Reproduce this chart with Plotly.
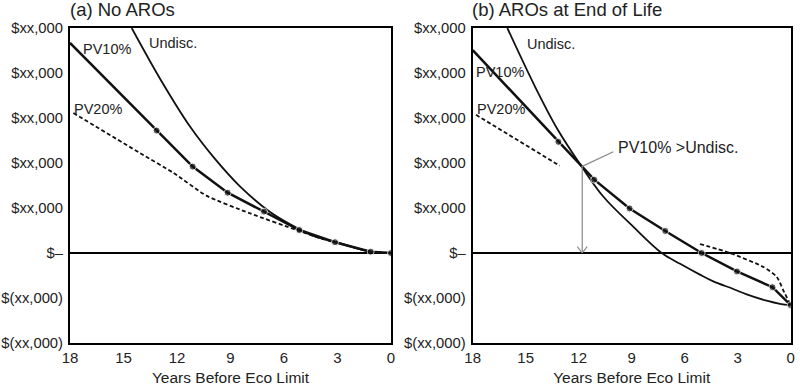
import plotly.graph_objects as go

# ---------------- data ----------------
x_ticks = [18, 15, 12, 9, 6, 3, 0]
y_ticks = [5, 4, 3, 2, 1, 0, -1, -2]
y_tick_labels = ["$xx,000", "$xx,000", "$xx,000", "$xx,000", "$xx,000", "$–", "$(xx,000)", "$(xx,000)"]

# Panel (a) No AROs
a_undisc_yr = [14.54, 12.9, 11.27, 9.87, 8.47, 6.78, 5.1, 4.15, 3.14, 1.14, 0]
a_undisc_val = [5.0, 3.84, 2.81, 2.09, 1.48, 0.91, 0.52, 0.35, 0.25, 0.03, 0]
a_pv10_yr = [18, 13.14, 11.12, 9.16, 7.12, 5.14, 3.14, 1.14, 0]
a_pv10_val = [4.67, 2.72, 1.92, 1.34, 0.92, 0.51, 0.24, 0.03, 0]
a_pv10_marker = [0, 7, 7, 7, 7, 7, 7, 7, 7]
a_pv20_yr = [17.81, 14.07, 12.2, 10.33, 7.9, 5.29, 3.98, 3.14, 1.14, 0]
a_pv20_val = [3.11, 2.22, 1.78, 1.27, 0.88, 0.51, 0.33, 0.24, 0.03, 0]

# Panel (b) AROs at End of Life
b_undisc_yr = [16.04, 14.5, 13.2, 11.83, 10.6, 8.9, 7.3, 6.26, 5.14, 4.38, 3.25, 2.49, 1.36, 0.61, 0]
b_undisc_val = [5.0, 3.72, 2.75, 1.92, 1.25, 0.58, 0.0, -0.24, -0.48, -0.63, -0.80, -0.92, -1.06, -1.13, -1.16]
b_pv10_yr = [18, 13.15, 11.12, 9.12, 7.1, 5.04, 3.04, 1.03, 0]
b_pv10_val = [4.51, 2.47, 1.63, 0.99, 0.49, 0.0, -0.41, -0.76, -1.16]
b_pv10_marker = [0, 7, 7, 7, 7, 7, 7, 7, 7]
b_pv20_yr = [17.81, 13.08, None, 5.14, 3.44, 1.55, 0.79, 0.42, 0]
b_pv20_val = [3.07, 1.94, None, 0.2, 0.0, -0.31, -0.53, -0.83, -1.16]

cross_yr = 11.8
cross_val = 1.92
FONT = "Liberation Sans, Arial, Helvetica, sans-serif"

fig = go.Figure()

def add_panel(xa, ya, und_x, und_y, p10_x, p10_y, p10_m, p20_x, p20_y):
    fig.add_trace(go.Scatter(x=und_x, y=und_y, xaxis=xa, yaxis=ya, mode="lines",
                             line=dict(color="#111", width=1.8, shape="spline", smoothing=1.0),
                             showlegend=False, hoverinfo="skip"))
    fig.add_trace(go.Scatter(x=p20_x, y=p20_y, xaxis=xa, yaxis=ya, mode="lines",
                             line=dict(color="#111", width=1.8, dash="4px,2.5px", shape="spline", smoothing=0.6),
                             showlegend=False, hoverinfo="skip", connectgaps=False))
    fig.add_trace(go.Scatter(x=p10_x, y=p10_y, xaxis=xa, yaxis=ya, mode="lines+markers",
                             line=dict(color="#111", width=2.5),
                             marker=dict(color="#111", size=p10_m),
                             showlegend=False, hoverinfo="skip"))

add_panel("x", "y", a_undisc_yr, a_undisc_val, a_pv10_yr, a_pv10_val, a_pv10_marker, a_pv20_yr, a_pv20_val)
add_panel("x2", "y2", b_undisc_yr, b_undisc_val, b_pv10_yr, b_pv10_val, b_pv10_marker, b_pv20_yr, b_pv20_val)

axis_common = dict(showline=True, mirror=True, linecolor="black", linewidth=2, showgrid=False,
                   automargin=False, ticks="")
xcommon = dict(axis_common, range=[18, 0], tickvals=x_ticks, zeroline=False, ticklabelstandoff=0,
               tickfont=dict(family=FONT, size=15, color="#222"),
               title=dict(text="Years Before Eco Limit", font=dict(family=FONT, size=15.5, color="#222"), standoff=7))
ycommon = dict(axis_common, range=[-2, 5], tickvals=y_ticks, ticktext=y_tick_labels,
               tickfont=dict(family=FONT, size=14.8, color="#222"),
               zeroline=True, zerolinecolor="black", zerolinewidth=2, ticklabelstandoff=2)

fig.update_layout(
    width=800, height=388,
    margin=dict(l=0, r=0, t=28, b=45),
    paper_bgcolor="white", plot_bgcolor="white",
    xaxis=dict(xcommon, domain=[70 / 800, 391 / 800], anchor="y"),
    yaxis=dict(ycommon, domain=[0, 1], anchor="x"),
    xaxis2=dict(xcommon, domain=[472.7 / 800, 790.7 / 800], anchor="y2"),
    yaxis2=dict(ycommon, domain=[0, 1], anchor="x2"),
)

ann = []
def txt(text, x, y, xref, yref, size=14.5, xanchor="left", yanchor="middle"):
    ann.append(dict(text=text, x=x, y=y, xref=xref, yref=yref, showarrow=False,
                    xanchor=xanchor, yanchor=yanchor,
                    font=dict(family=FONT, size=size, color="#222")))

# panel titles
ann.append(dict(text="(a) No AROs", x=68 / 800, y=1, xref="paper", yref="paper", showarrow=False,
                xanchor="left", yanchor="middle", yshift=19, font=dict(family=FONT, size=18.5, color="#222")))
ann.append(dict(text="(b) AROs at End of Life", x=470 / 800, y=1, xref="paper", yref="paper", showarrow=False,
                xanchor="left", yanchor="middle", yshift=19, font=dict(family=FONT, size=18.5, color="#222")))

# series labels panel a
txt("PV10%", 17.4, 4.53, "x", "y")
txt("Undisc.", 13.7, 4.66, "x", "y")
txt("PV20%", 17.9, 3.2, "x", "y")
# series labels panel b
txt("Undisc.", 15.05, 4.65, "x2", "y2")
txt("PV10%", 17.9, 4.02, "x2", "y2")
txt("PV20%", 17.85, 3.2, "x2", "y2")
txt("PV10% >Undisc.", 9.9, 2.34, "x2", "y2", size=16)
fig.update_layout(annotations=ann)

# leader line from crossing point to the label
grey = dict(color="#888", width=1.2)
fig.add_shape(type="line", xref="x2", yref="y2", x0=11.83, y0=1.92, x1=10.04, y1=2.25, line=grey)
# vertical arrow from crossing point down to zero line, with open V head
fig.add_shape(type="line", xref="x2", yref="y2", x0=cross_yr, y0=cross_val, x1=cross_yr, y1=0, line=grey)
fig.add_shape(type="line", xref="x2", yref="y2", x0=cross_yr + 0.28, y0=0.14, x1=cross_yr, y1=0, line=grey)
fig.add_shape(type="line", xref="x2", yref="y2", x0=cross_yr - 0.28, y0=0.14, x1=cross_yr, y1=0, line=grey)

fig.write_html("out.html", config={"displayModeBar": False},
               post_script="document.body.style.margin='0px';")
